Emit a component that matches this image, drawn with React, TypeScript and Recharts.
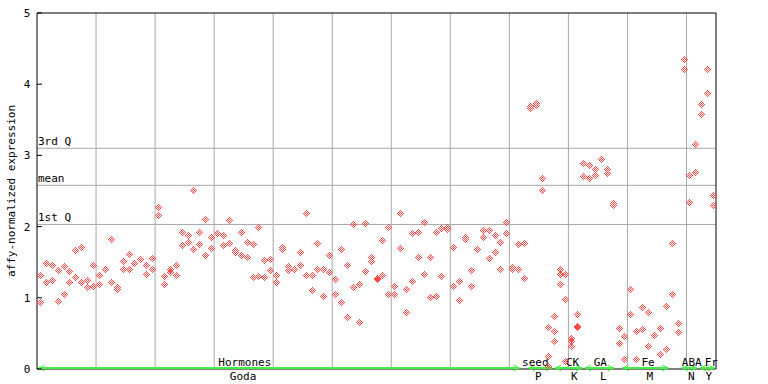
import { ScatterChart, Scatter, XAxis, YAxis, ReferenceLine } from 'recharts';

// expression per sample (two replicates, a third for a few samples)
const rep1 = [
  1.32, 1.49, 1.46, 1.39, 1.44, 1.37, 1.67, 1.71, 1.25, 1.46,
  1.32, 1.41, 1.82, 1.15, 1.51, 1.61, 1.49, 1.54, 1.46, 1.56,
  2.27, 1.30, 1.40, 1.46, 1.92, 1.88, 2.51, 1.92, 2.10, 1.86,
  1.91, 1.88, 2.09, 1.67, 1.93, 1.79, 1.75, 1.99, 1.53, 1.54,
  1.32, 1.71, 1.44, 1.41, 1.65, 2.19, 1.32, 1.77, 1.40, 1.60,
  1.26, 1.68, 1.46, 2.03, 1.19, 2.05, 1.57, 1.28, 1.81, 1.99,
  1.16, 2.19, 1.13, 1.91, 1.92, 2.06, 1.58, 1.93, 1.98, 1.99,
  1.72, 1.23, 1.85, 1.39, 1.69, 1.95, 1.95, 1.88, 1.78, 2.07,
  1.43, 1.75, 1.77, 3.69, 3.73, 2.68, 0.59, 0.74, 1.41, 1.33,
  0.43, 0.77, 2.89, 2.86, 2.81, 2.95, 2.81, 2.33, 0.57, 0.46,
  1.12, 0.54, 0.87, 0.80, 0.48, 0.57, 0.89, 1.77, 0.64, 4.36,
  2.73, 3.16, 3.72, 4.21, 2.45,
];
const rep2: (number | null)[] = [
  0.94, 1.22, 1.25, 0.95, 1.06, 1.22, 1.29, 1.22, 1.15, 1.16,
  1.19, 1.41, 1.22, 1.12, 1.41, 1.40, 1.49, 1.54, 1.34, 1.41,
  2.16, 1.20, 1.36, 1.32, 1.74, 1.79, 1.68, 1.75, 1.60, 1.70,
  1.91, 1.74, 1.77, 1.65, 1.60, 1.58, 1.29, 1.30, 1.29, 1.39,
  1.22, 1.68, 1.39, 1.41, 1.46, 1.32, 1.11, 1.41, 1.02, 1.36,
  1.05, 0.94, 0.73, 1.15, 0.66, 1.37, 1.51, 1.26, 1.32, 1.06,
  1.05, 1.70, 0.80, 1.23, 1.58, 1.33, 1.01, 1.02, 1.30, 1.96,
  1.16, 0.97, 1.82, 1.16, 1.69, 1.85, 1.56, 1.65, 1.41, 1.91,
  1.40, 1.40, 1.28, 3.66, 3.71, 2.51, 0.18, 0.53, 1.33, 0.99,
  0.40, 0.61, 2.71, 2.68, 2.72, null, 2.75, 2.30, 0.36, 0.14,
  0.77, 0.14, 0.56, 0.33, 0.48, 0.21, 0.28, 1.05, 0.52, 4.22,
  2.34, 2.76, 3.58, 3.87, 2.31,
];
const rep3Index = [86, 87, 88, 89, 90, 91];
const rep3 = [0.04, 0.39, 1.19, 0.11, 0.32, 0.59];

const yTicks = [0, 1, 2, 3, 4, 5];
const gridX = [10, 20, 30, 40, 50, 60, 70, 80, 90, 100, 110];

const statLabels = ['3rd Q', 'mean', '1st Q'];
const statValues = [3.1, 2.58, 2.03];

const groupNames = ['Hormones', 'seed', 'CK', 'GA', 'Fe', 'ABA', 'Fr'];
const groupCodes = ['Goda', 'P', 'K', 'L', 'M', 'N', 'Y'];
const groupStart = [0.3, 83.3, 87.8, 92.8, 99.2, 109.2, 112.3];
const groupEnd = [81.7, 87.2, 92.3, 97.7, 106.9, 111.7, 114.7];
const nameAt = [35.2, 84.4, 90.7, 95.4, 103.5, 110.9, 114.2];
const codeAt = [34.9, 84.9, 91.0, 95.9, 103.8, 110.8, 113.8];

const font = 'DejaVu Sans Mono';
const red = '#ff4a4a';

const points: { x: number; y: number }[] = [];
rep1.forEach((v, i) => points.push({ x: i + 0.5, y: v }));
rep2.forEach((v, i) => { if (v != null) points.push({ x: i + 0.5, y: v }); });
rep3.forEach((v, k) => points.push({ x: rep3Index[k] + 0.5, y: v }));

// checkered diamond like the original bitmap marker
const offsets: [number, number][] = [];
for (let dy = -3; dy <= 3; dy++)
  for (let dx = -3; dx <= 3; dx++) {
    const d = Math.abs(dx) + Math.abs(dy);
    if (d <= 3 && d % 2 === 1) offsets.push([dx, dy]);
  }

const Diamond = (p: any) => {
  const cx = Math.round(p.cx);
  const cy = Math.round(p.cy);
  return (
    <g>
      {offsets.map(([dx, dy], k) => (
        <rect key={k} x={cx + dx} y={cy + dy} width={1} height={1} fill={red} />
      ))}
    </g>
  );
};

const LeftTick = (p: any) => (
  <g>
    <line x1={p.x} x2={p.x + 5} y1={p.y} y2={p.y} stroke="#000" />
    <text x={p.x - 10} y={p.y} dy={4} textAnchor="middle" fontFamily={font} fontSize={11} fill="#000">
      {p.payload.value}
    </text>
  </g>
);

const RightTick = (p: any) => (
  <line x1={p.x - 5} x2={p.x} y1={p.y} y2={p.y} stroke="#000" />
);

const groupShape = (g: number) => (p: any) => {
  const { x1, x2, y1 } = p;
  const y = y1 - 1;
  const s = groupStart[g];
  const e = groupEnd[g];
  const px = (v: number) => x1 + ((v - s) / (e - s)) * (x2 - x1);
  return (
    <g>
      <line x1={x1} x2={x2} y1={y} y2={y} stroke="#44ee44" strokeWidth={2} />
      <polyline points={`${x1 + 6},${y - 3} ${x1},${y} ${x1 + 6},${y + 3}`} fill="none" stroke="#44ee44" />
      <polyline points={`${x2 - 6},${y - 3} ${x2},${y} ${x2 - 6},${y + 3}`} fill="none" stroke="#44ee44" />
      <text x={px(nameAt[g])} y={y1 - 3} textAnchor="middle" fontFamily={font} fontSize={11} fill="#000">
        {groupNames[g]}
      </text>
      <text x={px(codeAt[g])} y={y1 + 11} textAnchor="middle" fontFamily={font} fontSize={11} fill="#000">
        {groupCodes[g]}
      </text>
    </g>
  );
};

export default function App() {
  return (
    <div style={{ position: 'absolute', left: 0, top: 0, background: '#fff' }}>
      <ScatterChart width={768} height={384} margin={{ top: 13, right: 0, bottom: 15, left: 0 }}>
        <XAxis type="number" dataKey="x" domain={[0, 115]} hide />
        <YAxis
          type="number"
          dataKey="y"
          domain={[0, 5]}
          ticks={yTicks}
          interval={0}
          width={37}
          tickSize={0}
          tickMargin={0}
          tickLine={false}
          axisLine={{ stroke: '#000' }}
          tick={LeftTick}
          label={{
            content: () => (
              <text x={15} y={191} transform="rotate(-90 15 191)" textAnchor="middle" fontFamily={font} fontSize={11} fill="#000">
                affy-normalized expression
              </text>
            ),
          }}
        />
        <YAxis
          yAxisId="r"
          orientation="right"
          type="number"
          domain={[0, 5]}
          ticks={yTicks}
          interval={0}
          width={52}
          tickSize={0}
          tickMargin={0}
          tickLine={false}
          axisLine={{ stroke: '#000' }}
          tick={RightTick}
        />
        {gridX.map((v) => (
          <ReferenceLine key={'gx' + v} x={v} stroke="#a8a8a8" strokeWidth={1} />
        ))}
        {statValues.map((v, k) => (
          <ReferenceLine
            key={'st' + k}
            y={v}
            stroke="#a8a8a8"
            strokeWidth={1}
            label={{
              content: (lp: any) => (
                <text x={lp.viewBox.x + 1} y={lp.viewBox.y - 3} fontFamily={font} fontSize={11} fill="#000">
                  {statLabels[k]}
                </text>
              ),
            }}
          />
        ))}
        <ReferenceLine y={5} stroke="#000" />
        <ReferenceLine y={0} stroke="#000" />
        <Scatter data={points} shape={Diamond} isAnimationActive={false} />
        {groupNames.map((n, g) => (
          <ReferenceLine
            key={'grp' + n}
            segment={[{ x: groupStart[g], y: 0 }, { x: groupEnd[g], y: 0 }]}
            ifOverflow="visible"
            shape={groupShape(g)}
          />
        ))}
      </ScatterChart>
    </div>
  );
}
